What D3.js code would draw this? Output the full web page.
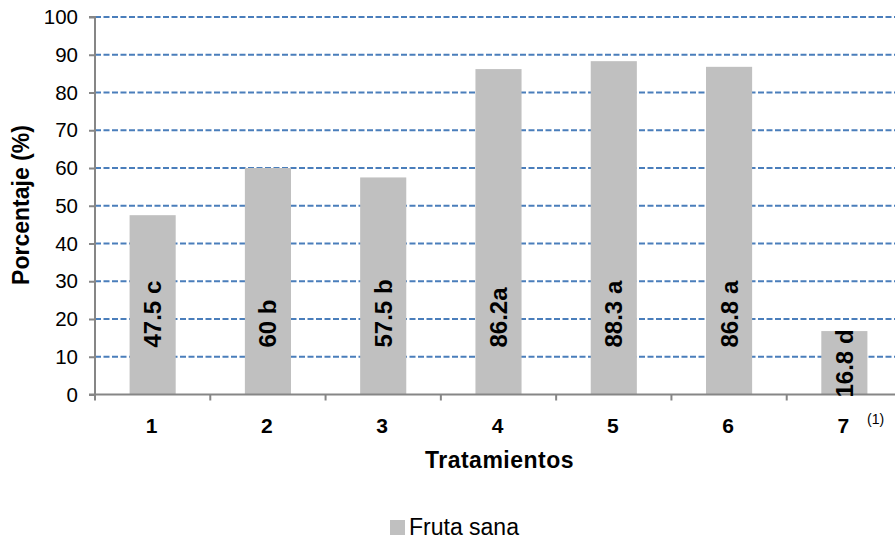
<!DOCTYPE html>
<html>
<head>
<meta charset="utf-8">
<script src="https://cdn.jsdelivr.net/npm/d3@7"></script>
<style>
  html, body { margin: 0; padding: 0; background: #fff; }
  svg { display: block; font-family: Arial, "Liberation Sans", sans-serif; }
</style>
</head>
<body>
<svg id="chart" width="895" height="542"></svg>
<script>
const categories = ["1", "2", "3", "4", "5", "6", "7"];
const values = [47.5, 60, 57.5, 86.2, 88.3, 86.8, 16.8];
const barLabels = ["47.5 c", "60 b", "57.5 b", "86.2a", "88.3 a", "86.8 a", "16.8 d"];
const yTicks = [0, 10, 20, 30, 40, 50, 60, 70, 80, 90, 100];
const seriesName = "Fruta sana";
const yTitle = "Porcentaje (%)";
const xTitle = "Tratamientos";
const footnote = "(1)";

const svg = d3.select("#chart");
const mLeft = 95, mRight = 902, mTop = 17, mBottom = 394.5;

const x = d3.scaleBand().domain(categories).range([mLeft, mRight]).paddingInner(0.6).paddingOuter(0.3);
const xb = d3.scaleBand().domain(categories).range([mLeft, mRight]).padding(0);
const y = d3.scaleLinear().domain([0, 100]).range([mBottom, mTop]);

// gridlines
svg.append("g").selectAll("line").data(yTicks.filter(d => d > 0)).join("line")
  .attr("x1", mLeft).attr("x2", 895)
  .attr("y1", d => y(d)).attr("y2", d => y(d))
  .attr("stroke", "#4A7EBB").attr("stroke-width", 2)
  .attr("stroke-dasharray", "6,2.5");

// bars
svg.append("g").selectAll("rect").data(values).join("rect")
  .attr("x", (d, i) => x(categories[i]))
  .attr("width", x.bandwidth())
  .attr("y", d => y(d))
  .attr("height", d => y(0) - y(d))
  .attr("fill", "#C0C0C0");

// y axis
const yAxis = d3.axisLeft(y).tickValues(yTicks).tickSize(6).tickPadding(11).tickFormat(d3.format("d"));
const gy = svg.append("g").attr("transform", `translate(${mLeft},0)`).call(yAxis);
gy.select(".domain").attr("stroke", "#868686").attr("stroke-width", 2).attr("d", `M-6,${mTop}H0V${mBottom}`);
gy.selectAll(".tick line").attr("stroke", "#868686").attr("stroke-width", 2);
gy.selectAll(".tick text").attr("font-size", 20.5).attr("fill", "#000").attr("font-family", "Arial, 'Liberation Sans', sans-serif");

// x axis line + ticks at band boundaries
svg.append("line").attr("x1", mLeft - 6).attr("x2", 895).attr("y1", mBottom).attr("y2", mBottom)
  .attr("stroke", "#868686").attr("stroke-width", 2);
svg.append("g").selectAll("line").data(categories).join("line")
  .attr("x1", d => xb(d)).attr("x2", d => xb(d))
  .attr("y1", mBottom).attr("y2", mBottom + 6)
  .attr("stroke", "#868686").attr("stroke-width", 2);
svg.append("g").selectAll("text").data(categories).join("text")
  .attr("x", d => xb(d) + xb.bandwidth() / 2 - 1)
  .attr("y", 432.5)
  .attr("text-anchor", "middle")
  .attr("font-size", 21).attr("font-weight", "bold")
  .text(d => d);

// bar labels
svg.append("g").selectAll("text").data(values).join("text")
  .attr("transform", (d, i) => {
    const cx = x(categories[i]) + x.bandwidth() / 2;
    const sy = d >= 30 ? y(0) - 47 : y(0) + 3;
    return `translate(${cx},${sy}) rotate(-90)`;
  })
  .attr("text-anchor", "start")
  .attr("dominant-baseline", "central")
  .attr("font-size", 24).attr("font-weight", "bold")
  .text((d, i) => barLabels[i]);

// footnote
svg.append("text").attr("x", 867).attr("y", 424).attr("font-size", 14).text(footnote);

// axis titles
svg.append("text").attr("transform", "translate(29,205) rotate(-90)")
  .attr("text-anchor", "middle").attr("font-size", 23).attr("font-weight", "bold").text(yTitle);
svg.append("text").attr("x", 499.5).attr("y", 468)
  .attr("text-anchor", "middle").attr("font-size", 23).attr("font-weight", "bold")
  .attr("letter-spacing", 0.5).text(xTitle);

// legend
svg.append("rect").attr("x", 390).attr("y", 520).attr("width", 15).attr("height", 15).attr("fill", "#C0C0C0");
svg.append("text").attr("x", 409).attr("y", 535).attr("font-size", 23).text(seriesName);
</script>
</body>
</html>
